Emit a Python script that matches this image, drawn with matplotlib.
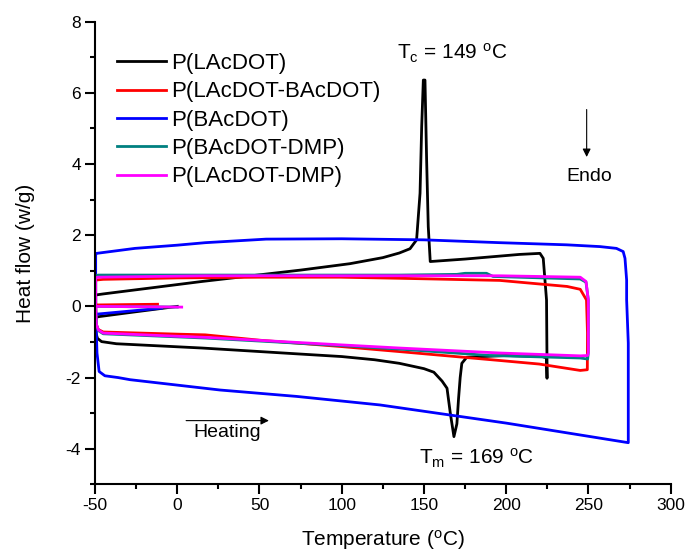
import numpy as np
import matplotlib
matplotlib.use("Agg")
import matplotlib.pyplot as plt
from matplotlib.ticker import MultipleLocator

plt.rcParams['font.family'] = ['Liberation Sans', 'DejaVu Sans']
plt.rcParams['mathtext.default'] = 'regular'
plt.rcParams['axes.unicode_minus'] = False

# DSC traces: initial tail -> heating (lower) -> cooling (upper)
lacdot_T = [0, -25, -48, -49.6, -49.4, -48.5, -46, -37, 15, 75, 100, 120, 135, 150, 156, 161,
            164, 166, 168.2, 170, 171, 172, 173, 176, 200, 222, 224.5, 224.8, 224.8, 224.5,
            222.5, 220.5, 208, 175, 153.8, 152.6, 151.6, 150.6, 149.6, 148.6, 147.6, 145.5,
            141.5, 135, 125, 105, 75, 15, -45, -49.6, -49.6]
lacdot_H = [0, -0.15, -0.29, -0.32, -0.75, -0.9, -0.99, -1.05, -1.17, -1.34, -1.41, -1.5, -1.6,
            -1.75, -1.85, -2.1, -2.3, -3.0, -3.66, -3.3, -2.6, -2.0, -1.6, -1.43, -1.38, -1.41,
            -1.45, -2.02, -1.6, 0.18, 1.35, 1.49, 1.46, 1.33, 1.26, 2.24, 4.12, 6.36, 6.36, 5.05,
            3.18, 1.87, 1.62, 1.5, 1.37, 1.2, 1.02, 0.7, 0.35, 0.32, -0.3]

lacbac_T = [-12, -49.6, -49.4, -48, -45, 0, 17, 50, 100, 135, 196, 220, 245, 249.3,
            249.4, 248.8, 245, 237, 196, 135, 99, 50, 0, -45, -49.6, -49.6]
lacbac_H = [0.06, 0.04, -0.5, -0.65, -0.72, -0.78, -0.8, -0.95, -1.13, -1.27, -1.52, -1.62,
            -1.8, -1.78, -0.75, 0.18, 0.48, 0.56, 0.73, 0.79, 0.82, 0.82, 0.8, 0.76, 0.74, 0.04]

bacdot_T = [-9.5, -49.5, -49.3, -48.8, -47.5, -44, -36, -28.7, 26, 72.6, 123.3, 200, 274.2,
            274.2, 273.2, 273.2, 272.2, 271.1, 267, 257, 236.7, 196.2, 150, 100, 54, 17, 0,
            -25.7, -49, -49.6, -49.6]
bacdot_H = [-0.05, -0.22, -0.57, -1.31, -1.83, -1.95, -2.0, -2.06, -2.35, -2.53, -2.77, -3.28,
            -3.83, -1.03, 0.18, 0.74, 1.35, 1.54, 1.63, 1.68, 1.73, 1.79, 1.87, 1.9, 1.89, 1.79,
            1.72, 1.63, 1.49, 1.45, -0.22]

bacdmp_T = [0, -49.6, -49.2, -48, -45, 17, 99, 135, 190, 245, 249.5,
            249.9, 249.9, 248.5, 245, 192, 188, 175, 170, 135, 17, -48, -49.6, -49.6]
bacdmp_H = [-0.02, 0.0, -0.5, -0.68, -0.77, -0.89, -1.1, -1.2, -1.38, -1.45, -1.48,
            -1.3, 0.18, 0.68, 0.77, 0.84, 0.93, 0.93, 0.9, 0.88, 0.88, 0.88, 0.86, 0.0]

lacdmp_T = [2.7, -49.6, -49.2, -48, -45, 0, 17, 99, 135, 196, 245, 249.5,
            249.9, 249.9, 248.5, 245, 196, 135, 17, -48.4, -49.6, -49.6]
lacdmp_H = [-0.02, 0.0, -0.5, -0.66, -0.75, -0.84, -0.87, -1.08, -1.17, -1.31, -1.39, -1.38,
            -1.3, 0.18, 0.7, 0.82, 0.86, 0.86, 0.86, 0.82, 0.8, 0.0]

series = [
    (lacdot_T, lacdot_H, 'P(LAcDOT)', 'black'),
    (lacbac_T, lacbac_H, 'P(LAcDOT-BAcDOT)', 'red'),
    (bacdot_T, bacdot_H, 'P(BAcDOT)', 'blue'),
    (bacdmp_T, bacdmp_H, 'P(BAcDOT-DMP)', '#008080'),
    (lacdmp_T, lacdmp_H, 'P(LAcDOT-DMP)', 'magenta'),
]

fig = plt.figure(figsize=(6.87, 5.59), dpi=100)
ax = fig.add_axes([0.1383, 0.1336, 0.838, 0.8276])

for T, H, name, col in series:
    ax.plot(T, H, color=col, lw=2.0, label=name, solid_joinstyle='round')

ax.set_xlim(-50, 300)
ax.set_ylim(-5, 8)
ax.xaxis.set_major_locator(MultipleLocator(50))
ax.xaxis.set_minor_locator(MultipleLocator(25))
ax.yaxis.set_major_locator(MultipleLocator(2))
ax.yaxis.set_minor_locator(MultipleLocator(1))
for s in ['top', 'right']:
    ax.spines[s].set_visible(False)
for s in ['left', 'bottom']:
    ax.spines[s].set_linewidth(1.5)
ax.tick_params(which='major', direction='out', length=7, width=1.5, labelsize=12.5, pad=3)
ax.tick_params(which='minor', direction='out', length=3.5, width=1.5)

ax.set_xlabel('Temperature ($^{o}$C)', fontsize=15, labelpad=11)
ax.set_ylabel('Heat flow (w/g)', fontsize=15, labelpad=22)

leg = ax.legend(loc='upper left', bbox_to_anchor=(0.170, 0.905), bbox_transform=fig.transFigure,
                frameon=False, fontsize=16, handlelength=2.2, handletextpad=0.25,
                labelspacing=0.33, borderpad=0, borderaxespad=0)

ax.text(133.4, 7.12, 'T$_{c}$ = 149 $^{o}$C', fontsize=15, va='center', ha='left')
ax.text(147.1, -4.26, 'T$_{m}$ = 169 $^{o}$C', fontsize=15, va='center', ha='left')
ax.text(236.3, 3.65, 'Endo', fontsize=14, va='center', ha='left')
ax.annotate('', xy=(248.9, 4.12), xytext=(248.9, 5.61),
            arrowprops=dict(arrowstyle='-|>', color='black', lw=0.8, mutation_scale=12))
ax.text(9.8, -3.55, 'Heating', fontsize=14, va='center', ha='left')
ax.annotate('', xy=(57.4, -3.21), xytext=(3.7, -3.21),
            arrowprops=dict(arrowstyle='-|>', color='black', lw=0.8, mutation_scale=12))

fig.savefig('out.png', dpi=100)
